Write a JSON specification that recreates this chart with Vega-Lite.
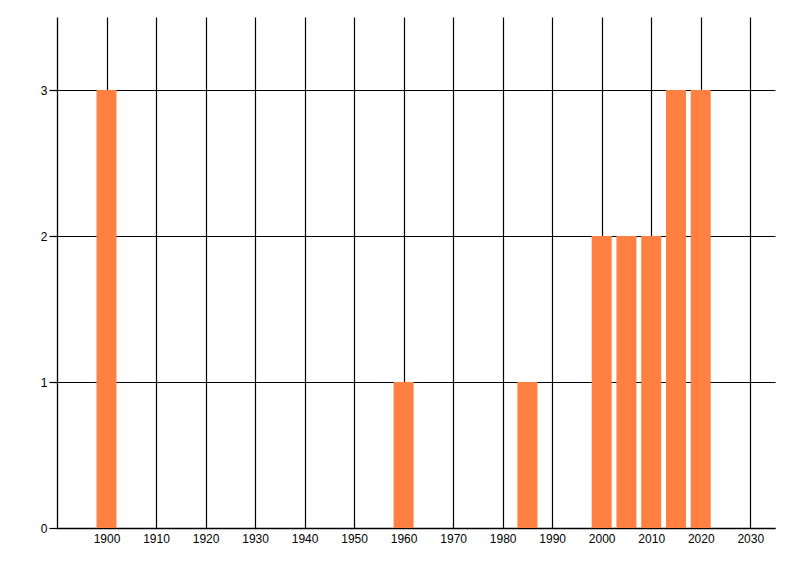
{
  "$schema": "https://vega.github.io/schema/vega-lite/v6.json",
  "autosize": {"type": "none"},
  "padding": {"left": 57, "top": 17, "right": 25, "bottom": 48},
  "width": 718,
  "height": 511,
  "background": "white",
  "config": {
    "view": {"stroke": null},
    "axis": {
      "labelFont": "Liberation Sans",
      "labelFontSize": 12,
      "labelColor": "black",
      "domainColor": "black",
      "domainWidth": 1.3,
      "gridColor": "black",
      "gridOpacity": 1,
      "gridWidth": 1.2,
      "tickColor": "black",
      "title": null
    }
  },
  "data": {
    "values": [
      {"year": 1900, "count": 3},
      {"year": 1960, "count": 1},
      {"year": 1985, "count": 1},
      {"year": 2000, "count": 2},
      {"year": 2005, "count": 2},
      {"year": 2010, "count": 2},
      {"year": 2015, "count": 3},
      {"year": 2020, "count": 3}
    ]
  },
  "mark": {"type": "bar", "color": "#FF8040", "size": 20, "opacity": 1},
  "encoding": {
    "x": {
      "field": "year",
      "type": "quantitative",
      "scale": {"domain": [1890, 2035], "nice": false, "zero": false, "padding": 0},
      "axis": {
        "values": [1900, 1910, 1920, 1930, 1940, 1950, 1960, 1970, 1980, 1990, 2000, 2010, 2020, 2030],
        "format": "d",
        "ticks": false,
        "labelPadding": 5,
        "grid": true
      }
    },
    "y": {
      "field": "count",
      "type": "quantitative",
      "scale": {"domain": [0, 3.5], "nice": false},
      "axis": {
        "values": [0, 1, 2, 3],
        "tickSize": 8,
        "tickWidth": 1.2,
        "labelPadding": 2,
        "grid": true
      }
    }
  }
}
